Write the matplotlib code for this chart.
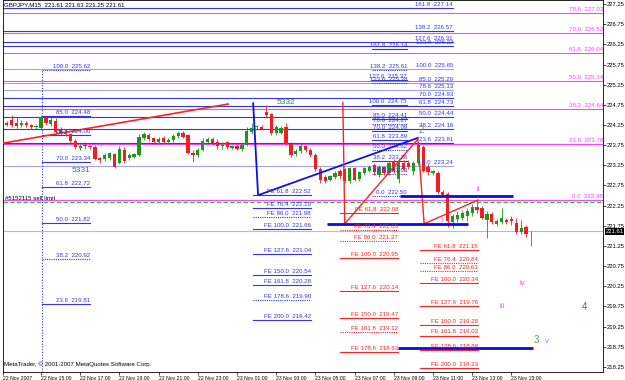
import numpy as np
import matplotlib.pyplot as plt
import matplotlib.transforms as mtransforms

plt.rcParams['font.family'] = ['Liberation Sans', 'DejaVu Sans']

# M15 bars, index 0 = 22 Nov 15:00
bar_idx = np.arange(-8, 101)
opens = [224.28, 224.30, 224.38, 224.30, 224.24, 224.30, 224.24, 224.20,
         224.17, 224.42, 224.27, 224.36, 224.12, 224.08, 224.02, 223.85, 223.68, 223.75, 223.72, 223.70,
         223.42, 223.40, 223.42, 223.52, 223.30, 223.62, 223.42, 223.45, 223.50, 223.92, 224.00, 223.92,
         223.82, 223.92, 223.82, 223.88, 223.97, 224.05, 224.00, 223.55, 223.50, 223.62, 223.84, 223.90,
         223.82, 223.72, 223.82, 223.68, 223.74, 223.65, 223.76, 224.08, 224.20, 224.20, 224.58, 224.52,
         224.05, 224.05, 224.20, 223.78, 223.52, 223.60, 223.72, 223.62, 223.50, 223.15, 222.95, 222.88,
         222.95, 223.10, 223.15, 222.85, 223.18, 222.90, 223.05, 223.12, 223.25, 223.00, 223.20, 223.05,
         223.35, 222.90, 223.30, 223.30, 223.10, 223.30, 223.70, 223.20, 223.05, 223.05, 222.60, 222.55,
         221.85, 221.92, 221.95, 222.00, 222.08, 222.22, 222.20, 221.90, 222.05, 221.80, 221.85, 221.90,
         221.92, 221.82, 221.60, 221.72, 221.61]
highs = [224.36, 224.36, 224.50, 224.44, 224.38, 224.34, 224.28, 224.26,
         224.50, 224.48, 224.44, 224.42, 224.20, 224.14, 224.05, 223.90, 223.78, 223.82, 223.76, 223.75,
         223.46, 223.55, 223.58, 223.56, 223.72, 223.70, 223.55, 223.56, 224.02, 224.08, 224.05, 223.95,
         223.95, 223.98, 223.94, 224.02, 224.10, 224.10, 224.02, 223.62, 223.68, 223.92, 223.96, 223.95,
         223.90, 223.82, 223.86, 223.76, 223.78, 223.80, 224.20, 224.30, 224.26, 224.24, 224.75, 224.56,
         224.25, 224.22, 224.30, 223.82, 223.65, 223.80, 223.76, 223.68, 223.55, 223.20, 223.00, 223.02,
         223.10, 223.15, 223.18, 223.22, 223.22, 223.12, 223.22, 223.26, 223.30, 223.25, 223.24, 223.35,
         223.40, 223.40, 223.38, 223.38, 223.35, 223.81, 223.75, 223.28, 223.14, 223.10, 222.65, 222.58,
         222.05, 222.12, 222.15, 222.20, 222.28, 222.38, 222.25, 222.12, 222.10, 221.92, 222.18, 221.95,
         222.00, 221.95, 221.90, 221.78, 221.63]
lows = [224.24, 224.22, 224.20, 224.18, 224.20, 224.20, 224.16, 224.14,
        224.15, 224.25, 224.22, 224.03, 224.00, 223.98, 223.80, 223.65, 223.62, 223.65, 223.66, 223.38,
        223.32, 223.36, 223.38, 223.18, 223.28, 223.30, 223.38, 223.42, 223.48, 223.88, 223.86, 223.78,
        223.78, 223.78, 223.78, 223.84, 223.94, 223.92, 223.52, 223.33, 223.45, 223.60, 223.80, 223.76,
        223.66, 223.66, 223.66, 223.65, 223.62, 223.60, 223.72, 224.02, 224.16, 224.14, 224.45, 224.00,
        224.00, 224.02, 223.75, 223.45, 223.48, 223.56, 223.58, 223.46, 223.10, 222.82, 222.80, 222.85,
        222.90, 222.92, 222.82, 222.82, 222.85, 222.86, 223.00, 223.08, 223.02, 222.95, 223.00, 223.00,
        223.05, 222.82, 223.10, 223.15, 223.02, 223.25, 223.08, 223.02, 223.00, 222.55, 222.48, 221.72,
        221.70, 221.85, 221.90, 221.88, 222.00, 222.08, 221.92, 221.45, 221.80, 221.75, 221.80, 221.80,
        221.78, 221.55, 221.55, 221.48, 221.25]
closes = [224.32, 224.26, 224.24, 224.22, 224.30, 224.24, 224.20, 224.22,
          224.45, 224.30, 224.38, 224.07, 224.05, 224.02, 223.85, 223.70, 223.74, 223.72, 223.70, 223.40,
          223.37, 223.50, 223.55, 223.22, 223.65, 223.35, 223.50, 223.52, 223.95, 224.02, 223.90, 223.82,
          223.90, 223.82, 223.88, 223.98, 224.06, 223.96, 223.55, 223.50, 223.62, 223.85, 223.90, 223.80,
          223.72, 223.76, 223.70, 223.72, 223.65, 223.76, 224.10, 224.18, 224.22, 224.16, 224.50, 224.05,
          224.20, 224.18, 223.78, 223.50, 223.60, 223.72, 223.62, 223.50, 223.15, 222.88, 222.85, 222.98,
          223.05, 222.98, 222.85, 223.18, 222.88, 223.08, 223.18, 223.22, 223.08, 223.20, 223.05, 223.30,
          223.10, 223.35, 223.15, 223.20, 223.30, 223.75, 223.12, 223.08, 223.10, 222.60, 222.52, 221.88,
          222.00, 222.02, 222.08, 222.12, 222.22, 222.15, 221.95, 222.05, 221.85, 221.88, 221.95, 221.85,
          221.88, 221.60, 221.70, 221.55, 221.61]

fib_levels = ['161.8', '138.2', '127.6', '123.6', '100.0', '85.0', '78.6', '70.0', '61.8', '50.0', '38.2', '23.6', '0.0']
fibA_prices = [227.14, 226.57, 226.31, 226.22, 225.65, 225.29, 225.13, 224.93, 224.73, 224.44, 224.16, 223.81, 223.24]
fibB_prices = [226.14, 225.61, 225.37, 225.28, 224.75, 224.41, 224.27, 224.09, 223.89, 223.62, 223.36, 223.03, 222.50]
fibC_levels = ['100.0', '85.0', '78.6', '70.0', '61.8', '50.0', '38.2', '23.6']
fibC_prices = [225.62, 224.48, 224.00, 223.34, 222.72, 221.82, 220.92, 219.81]
fibG_levels = ['78.6', '70.0', '61.8', '50.0', '38.2', '23.6', '0.0']
fibG_prices = [227.03, 226.52, 226.04, 225.34, 224.64, 223.78, 222.38]
fe_levels = ['61.8', '76.4', '86.0', '100.0', '127.6', '150.0', '161.8', '178.6', '200.0']
feD_prices = [222.52, 222.19, 221.98, 221.66, 221.04, 220.54, 220.28, 219.90, 219.42]
feE_prices = [222.08, 221.65, 221.37, 220.95, 220.14, 219.47, 219.12, 218.63]
feF_prices = [221.15, 220.84, 220.63, 220.34, 219.76, 219.28, 219.03, 218.68, 218.23]

xtick_pos = [-7.7, 0, 8, 16, 24, 32, 40, 48, 56, 64, 72, 80, 88, 96]
xtick_lbl = ['22 Nov 2007', '22 Nov 15:00', '22 Nov 17:00', '22 Nov 19:00', '22 Nov 21:00', '22 Nov 23:00',
             '23 Nov 01:00', '23 Nov 03:00', '23 Nov 05:00', '23 Nov 07:00', '23 Nov 09:00',
             '23 Nov 11:00', '23 Nov 13:00', '23 Nov 15:00']

BLUE = '#3434e8'
LAV = '#a4a4ec'
MAG = '#ff44ff'
RED = '#ff2222'
FS = 4.4

fig = plt.figure(figsize=(6.25, 3.8), dpi=100)
ax = fig.add_axes([3/625, 8/380, 600/625, 372/380])
x_lo, x_hi = -7.76, 114.7
ax.set_xlim(x_lo, x_hi)
ax.set_ylim(218.125, 227.35)


def levels(names, prices, x0, x1, color, prefix='', light=(), dotted=(), lw=0.8):
    for n, p in zip(names, prices):
        c = LAV if n in light else color
        ls = (0, (1, 1)) if n in dotted else '-'
        ax.plot([x0, x1], [p, p], color=c, lw=lw, ls=ls, zorder=2)
        ax.text(x1, p + 0.025, prefix + n + '  ' + '%.2f' % p, color=color,
                fontsize=FS, ha='right', va='bottom', zorder=6)


# fibo / expansion objects
levels(fibG_levels, fibG_prices, x_lo, x_hi, MAG)
levels(fib_levels, fibA_prices, x_lo, 84.1, BLUE, light=('100.0', '85.0', '78.6', '0.0'))
levels(fib_levels, fibB_prices, 67.6, 74.7, BLUE, dotted=('138.2', '123.6', '78.6', '50.0', '23.6', '0.0'))
levels(fibC_levels, fibC_prices, 0.2, 10, BLUE, dotted=('100.0', '38.2'))
levels(fe_levels, feD_prices, 43.3, 55.1, BLUE, 'FE ', dotted=('86.0', '178.6'))
levels(fe_levels[:8], feE_prices, 61.0, 72.9, RED, 'FE ', dotted=('76.4', '86.0', '161.8'))
levels(fe_levels, feF_prices, 77.3, 89.2, RED, 'FE ', dotted=('76.4', '86.0'))
ax.vlines(0.2, 218.125, 225.62, colors=BLUE, lw=0.8, linestyles=(0, (1, 1.5)), zorder=2)

# order line, bid line
ax.axhline(222.33, color='#33bb33', lw=0.8, ls=(0, (4, 2)), zorder=2)
ax.text(-7.3, 222.37, '#5152115 sell limit', fontsize=FS, color='black', va='bottom', zorder=6)
ax.axhline(221.61, color='#bdbdbd', lw=0.8, zorder=1)

# candles
o = np.array(opens); h = np.array(highs); l = np.array(lows); c = np.array(closes)
cols = np.where(c >= o, '#1e961e', '#f01e1e')
ax.vlines(bar_idx, l, h, colors=cols, lw=0.6, zorder=3)
ax.bar(bar_idx, np.maximum(np.abs(c - o), 0.015), bottom=np.minimum(o, c), width=0.68,
       color=cols, linewidth=0, zorder=4)

# wave drawings
ax.plot([x_lo, 38.2], [223.80, 224.77], color=RED, lw=1.2, zorder=5)
ax.plot([43.3, 44.3, 76.9], [224.79, 222.51, 223.93], color='#1010e6', lw=1.3, zorder=5)
ax.plot([61.6, 62.0, 76.9, 78.2, 89.2], [224.80, 221.80, 223.90, 221.80, 222.39], color=RED, lw=1.0, zorder=5)
ax.hlines([221.80, 222.49, 218.72], [58.4, 73.3, 72.9], [87.1, 96.3, 100.4], colors='#0a0af0', lw=2, zorder=5)

# wave counts
ax.text(8.2, 223.13, '5331', color='#2e8b2e', fontsize=6, ha='center', va='center', zorder=6)
ax.text(50.0, 224.82, '5332', color='#2e8b2e', fontsize=6, ha='center', va='center', zorder=6)
ax.text(77.6, 224.12, '2', color='#6aa06a', fontsize=7, ha='center', va='center', zorder=6)
ax.text(89.2, 222.64, 'ii', color=MAG, fontsize=5.5, ha='center', va='center', zorder=6)
ax.text(82.0, 221.89, 'i', color=MAG, fontsize=5.5, ha='center', va='center', zorder=6)
ax.text(94.1, 219.76, 'iii', color=MAG, fontsize=5.5, ha='center', va='center', zorder=6)
ax.text(98.2, 220.33, 'iv', color=MAG, fontsize=5.5, ha='center', va='center', zorder=6)
ax.text(103.3, 218.87, 'v', color=MAG, fontsize=5.5, ha='center', va='center', zorder=6)
ax.text(101.2, 218.92, '3', color='#5aa05a', fontsize=7, ha='center', va='center', zorder=6)
ax.text(111.0, 219.74, '4', color='#1f8f1f', fontsize=7, ha='center', va='center', zorder=6)

# axes
ax.yaxis.tick_right()
ax.set_yticks(np.arange(218.25, 227.3, 0.5))
ax.set_yticklabels(['%.2f' % v for v in np.arange(218.25, 227.3, 0.5)])
ax.set_xticks(xtick_pos)
ax.set_xticklabels(xtick_lbl)
for t in ax.get_xticklabels():
    t.set_horizontalalignment('left')
ax.tick_params(axis='y', labelsize=4.2, length=2, width=0.5, pad=1)
ax.tick_params(axis='x', labelsize=3.7, length=2, width=0.5, pad=1)
for s in ax.spines.values():
    s.set_linewidth(0.6)
    s.set_color('black')

trans = mtransforms.blended_transform_factory(ax.transAxes, ax.transData)
ax.text(1.004, 221.61, '221.61', transform=trans, fontsize=4.2, color='white', va='center', ha='left',
        bbox=dict(facecolor='black', edgecolor='none', pad=0.6), zorder=7, clip_on=False)

fig.text(4/625, 1 - 5/380, 'GBPJPY,M15  221.61 221.63 221.25 221.61', fontsize=4.4, va='center')
fig.text(4/625, 1 - 364/380, 'MetaTrader, \u00a9 2001-2007 MetaQuotes Software Corp.', fontsize=4.4, va='center')

fig.savefig('out.png', dpi=100)
